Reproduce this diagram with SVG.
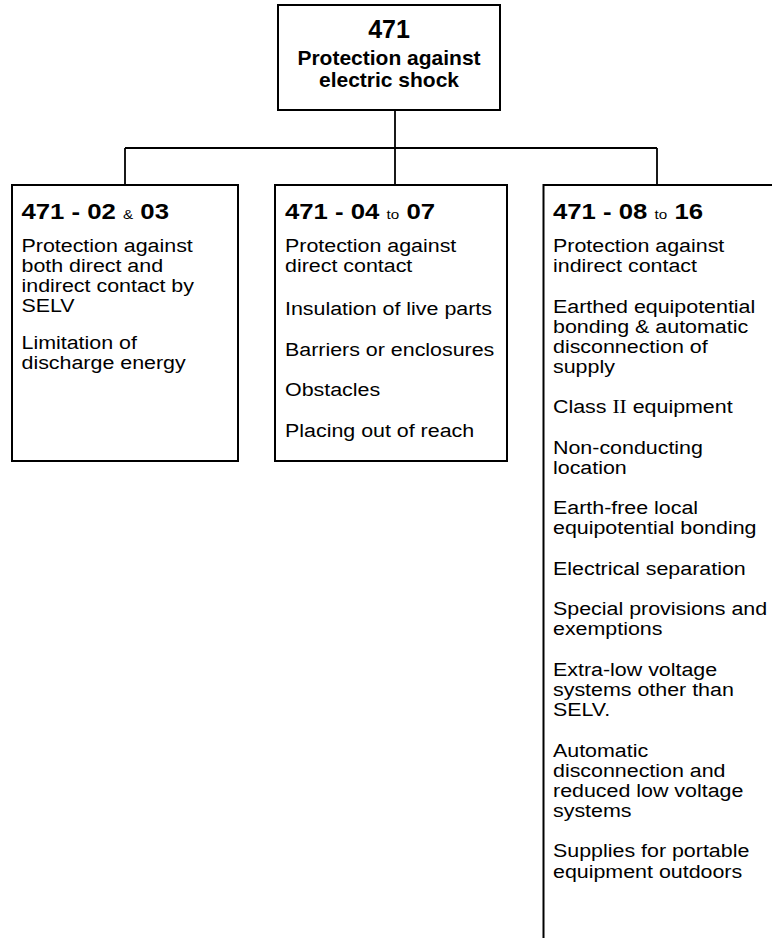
<svg xmlns="http://www.w3.org/2000/svg" width="772" height="938" viewBox="0 0 772 938">
  <style>
    text { font-family: "Liberation Sans", Arial, Helvetica, sans-serif; fill: #000; }
    .box { fill: #fff; stroke: #000; stroke-width: 2; }
    .open { fill: none; stroke: #000; stroke-width: 2; }
    .link { fill: none; stroke: #000; stroke-width: 1.8; }
    .ttl { font-size: 21px; font-weight: bold; text-anchor: middle; }
    .num { font-size: 25px; font-weight: bold; text-anchor: middle; }
    .hd { font-size: 22px; font-weight: bold; }
    .sm { font-size: 13px; font-weight: normal; }
    .tx { font-size: 18px; }
    .rn { font-family: "Liberation Serif", "Times New Roman", serif; }
  </style>
  <rect width="772" height="938" fill="#fff"/>

  <!-- connectors -->
  <g id="connectors">
    <path class="link" d="M395,110 V148"/>
    <path class="link" d="M125,148 H657"/>
    <path class="link" d="M125,148 V185"/>
    <path class="link" d="M395,148 V185"/>
    <path class="link" d="M657,148 V185"/>
  </g>

  <!-- root node -->
  <g id="node-471">
    <rect class="box" x="278" y="5" width="222" height="105"/>
    <text class="num" x="389" y="38">471</text>
    <text class="ttl" x="389" y="65">Protection against</text>
    <text class="ttl" x="389" y="87">electric shock</text>
  </g>

  <!-- 471-02 & 03 -->
  <g id="node-471-02-03">
    <rect class="box" x="12" y="185" width="226" height="276"/>
    <text class="hd" transform="translate(21.5,218.5) scale(1.17,1)">471 - 02 <tspan class="sm">&amp;</tspan> 03</text>
    <g transform="translate(21.5,0) scale(1.19,1)">
      <text class="tx" y="252">Protection against</text>
      <text class="tx" y="272.2">both direct and</text>
      <text class="tx" y="292.3">indirect contact by</text>
      <text class="tx" y="312.5">SELV</text>
      <text class="tx" y="349">Limitation of</text>
      <text class="tx" y="369">discharge energy</text>
    </g>
  </g>

  <!-- 471-04 to 07 -->
  <g id="node-471-04-07">
    <rect class="box" x="275" y="185" width="232" height="276"/>
    <text class="hd" transform="translate(285,218.5) scale(1.17,1)">471 - 04 <tspan class="sm">to</tspan> 07</text>
    <g transform="translate(285,0) scale(1.19,1)">
      <text class="tx" y="252">Protection against</text>
      <text class="tx" y="272.2">direct contact</text>
      <text class="tx" y="315">Insulation of live parts</text>
      <text class="tx" y="356">Barriers or enclosures</text>
      <text class="tx" y="396.5">Obstacles</text>
      <text class="tx" y="437">Placing out of reach</text>
    </g>
  </g>

  <!-- 471-08 to 16 (runs past the right and bottom edges) -->
  <g id="node-471-08-16">
    <path class="open" d="M773,185 H543.5 V939"/>
    <text class="hd" transform="translate(553,218.5) scale(1.17,1)">471 - 08 <tspan class="sm">to</tspan> 16</text>
    <g transform="translate(553,0) scale(1.19,1)">
      <text class="tx" y="252">Protection against</text>
      <text class="tx" y="272.2">indirect contact</text>
      <text class="tx" y="312.6">Earthed equipotential</text>
      <text class="tx" y="332.7">bonding &amp; automatic</text>
      <text class="tx" y="352.9">disconnection of</text>
      <text class="tx" y="373">supply</text>
      <text class="tx" y="413.4">Class <tspan class="rn">II</tspan> equipment</text>
      <text class="tx" y="453.8">Non-conducting</text>
      <text class="tx" y="474">location</text>
      <text class="tx" y="514.4">Earth-free local</text>
      <text class="tx" y="534.5">equipotential bonding</text>
      <text class="tx" y="574.9">Electrical separation</text>
      <text class="tx" y="615.3">Special provisions and</text>
      <text class="tx" y="635.5">exemptions</text>
      <text class="tx" y="675.9">Extra-low voltage</text>
      <text class="tx" y="696">systems other than</text>
      <text class="tx" y="716.2">SELV.</text>
      <text class="tx" y="756.6">Automatic</text>
      <text class="tx" y="776.7">disconnection and</text>
      <text class="tx" y="796.9">reduced low voltage</text>
      <text class="tx" y="817">systems</text>
      <text class="tx" y="857.4">Supplies for portable</text>
      <text class="tx" y="877.6">equipment outdoors</text>
    </g>
  </g>
</svg>
